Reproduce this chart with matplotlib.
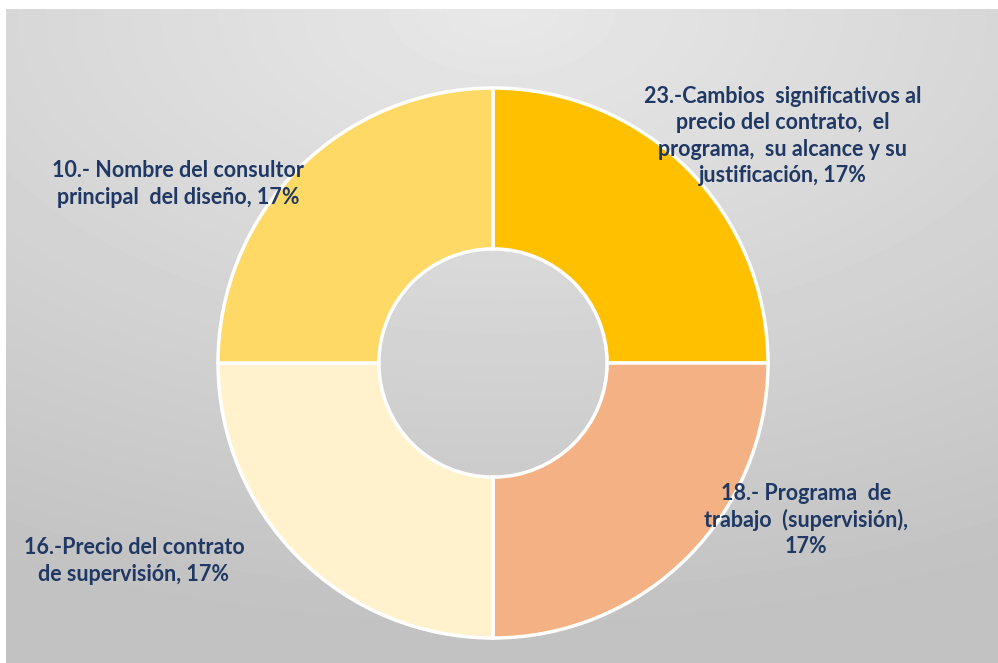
import numpy as np
import matplotlib.pyplot as plt

# data (clockwise from 12 o'clock)
categories = [
    "23.-Cambios  significativos al\nprecio del contrato,  el\nprograma,  su alcance y su\njustificación",
    "18.- Programa  de\ntrabajo  (supervisión),\n",
    "16.-Precio del contrato\nde supervisión",
    "10.- Nombre del consultor\nprincipal  del diseño",
]
values = [17, 17, 17, 17]
colors = ["#FFC000", "#F4B183", "#FFF2CC", "#FFD966"]
label_pos = [(783, 136), (806, 520), (134, 561), (178, 184)]

W, H = 998, 663
fig = plt.figure(figsize=(W / 100, H / 100), dpi=100, facecolor="white")
ax = fig.add_axes([0, 0, 1, 1])

# grey gradient background, lighter at the top centre
gx, gy = np.meshgrid(np.linspace(0, 1, 200), np.linspace(0, 1, 140))
dist = np.sqrt(((gx - 0.5) * 0.9) ** 2 + (gy * 1.05) ** 2)
shade = 0.91 - 0.15 * np.clip(dist, 0, 1)
ax.imshow(shade, cmap="gray", vmin=0, vmax=1, extent=(6, W, 0, H - 9),
          origin="upper", aspect="auto", zorder=0, interpolation="bilinear")

cx, cy, r = 493, H - 363, 275
ax.pie(values, colors=colors, startangle=90, counterclock=False,
       center=(cx, cy), radius=r, frame=True,
       wedgeprops=dict(width=r * 0.585, edgecolor="white", linewidth=2.5))

for name, v, (x, y) in zip(categories, values, label_pos):
    if name.endswith("\n"):
        txt = f"{name}{v}%"
    else:
        txt = f"{name}, {v}%"
    ax.text(x, H - y, txt, ha="center", va="center", multialignment="center",
            fontsize=15.5, fontweight="bold", color="#1F3864",
            family="Lato", linespacing=1.3, zorder=5)

ax.set_xlim(0, W)
ax.set_ylim(0, H)
ax.set_aspect("auto")
ax.axis("off")

fig.savefig("out.png", dpi=100, facecolor="white")
